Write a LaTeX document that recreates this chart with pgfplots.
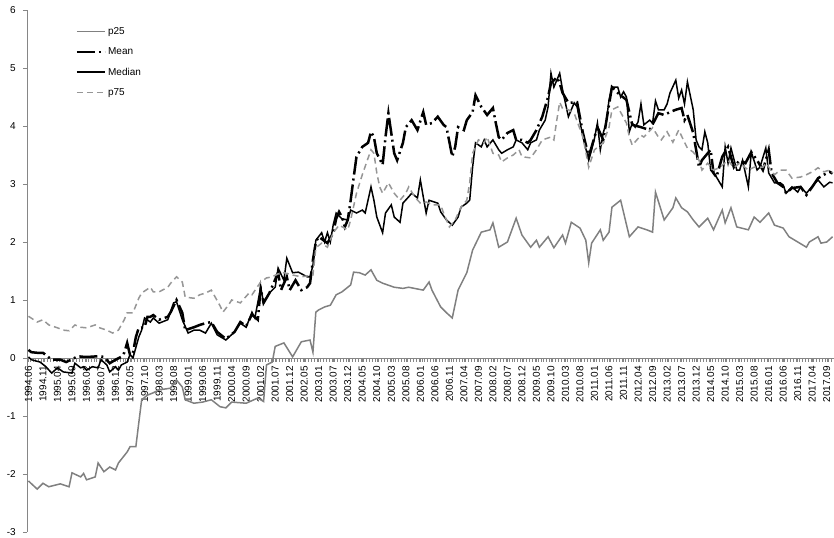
\documentclass[border=0pt]{standalone}
\usepackage{fontspec}
\setmainfont{Liberation Sans}
\usepackage{pgfplots}
\pgfplotsset{compat=1.18}
\definecolor{axgray}{RGB}{134,134,134}
\definecolor{pgray}{RGB}{128,128,128}
\definecolor{qgray}{RGB}{150,150,150}
\begin{document}
\fontsize{10}{12}\selectfont
\begin{tikzpicture}
\begin{axis}[
 scale only axis, width=807pt, height=522pt,
 xmin=-0.5, xmax=277.5, ymin=-3, ymax=6,
 axis x line=middle, axis y line=left,
 axis line style={draw=axgray, line width=0.8pt, -},
 hide obscured x ticks=false, hide obscured y ticks=false,
 ytick={-3,-2,-1,0,1,2,3,4,5,6},
 yticklabel style={font=\fontsize{10}{12}\selectfont, inner sep=0pt, xshift=-7pt},
 ytick style={draw=axgray, line width=0.6pt},
 xtick={0,5,...,275},
 xticklabels={1994.06,1994.11,1995.04,1995.09,1996.02,1996.07,1996.12,1997.05,1997.10,1998.03,1998.08,1999.01,1999.06,1999.11,2000.04,2000.09,2001.02,2001.07,2001.12,2002.05,2003.01,2003.07,2003.12,2004.05,2004.10,2005.03,2005.08,2006.01,2006.06,2006.11,2007.04,2007.09,2008.02,2008.07,2008.12,2009.05,2009.10,2010.03,2010.08,2011.01,2011.06,2011.11,2012.04,2012.09,2013.02,2013.07,2013.12,2014.05,2014.10,2015.03,2015.08,2016.01,2016.06,2016.11,2017.04,2017.09},
 xticklabel style={rotate=90, anchor=east, inner sep=0pt, xshift=-4pt, font=\fontsize{10}{12}\selectfont},
 minor xtick={-0.5,0.5,...,277.5},
 xtick style={draw=axgray, line width=0.5pt},
 tick align=outside,
 major tick length=4pt, minor tick length=4pt,
 /pgf/number format/assume math mode=true,
 legend cell align=left,
 legend style={draw=none, fill=none, at={(0.06,0.971)}, anchor=north west,
   font=\fontsize{10}{12}\selectfont, row sep=7.8pt, inner sep=0pt},
 legend image code/.code={\draw[#1] (0pt,0pt) -- (28pt,0pt);},
]
\addplot[pgray, line width=1.5pt] table[row sep=\\] {x y\\
0 -2.12\\ 3 -2.26\\ 5 -2.16\\ 7 -2.22\\ 11 -2.17\\ 14 -2.22\\ 15 -1.98\\ 18 -2.05\\ 19 -1.99\\ 20 -2.10\\
23 -2.05\\ 24 -1.81\\ 26 -1.96\\ 28 -1.88\\ 30 -1.93\\ 31 -1.81\\ 34 -1.62\\ 35 -1.53\\ 37 -1.53\\ 38 -1.12\\
39 -0.72\\ 41 -0.64\\ 43 -0.60\\ 45 -0.55\\ 49 -0.52\\ 51 -0.38\\ 53 -0.50\\ 54 -0.72\\ 57 -0.78\\ 60 -0.76\\
63 -0.72\\ 66 -0.84\\ 68 -0.86\\ 70 -0.76\\ 75 -0.78\\ 79 -0.69\\ 81 -0.75\\ 82 -0.12\\ 84 -0.07\\ 85 0.20\\
88 0.26\\ 91 0.02\\ 94 0.28\\ 97 0.31\\ 98 0.10\\ 99 0.79\\ 100 0.83\\ 102 0.88\\ 104 0.91\\ 106 1.09\\
108 1.14\\ 111 1.26\\ 112 1.48\\ 114 1.47\\ 116 1.43\\ 118 1.52\\ 120 1.34\\ 122 1.29\\ 126 1.22\\ 129 1.20\\
131 1.22\\ 136 1.17\\ 138 1.31\\ 139 1.17\\ 142 0.88\\ 144 0.78\\ 146 0.69\\ 148 1.17\\ 151 1.47\\ 153 1.86\\
156 2.17\\ 159 2.21\\ 160 2.33\\ 162 1.91\\ 165 2.00\\ 168 2.41\\ 170 2.12\\ 173 1.91\\ 175 2.03\\ 176 1.91\\
179 2.09\\ 181 1.90\\ 184 2.12\\ 185 1.98\\ 187 2.34\\ 190 2.24\\ 192 2.03\\ 193 1.64\\ 194 1.98\\ 197 2.21\\
198 2.03\\ 200 2.17\\ 201 2.60\\ 204 2.72\\ 207 2.09\\ 210 2.26\\ 213 2.21\\ 215 2.17\\ 216 2.86\\ 219 2.38\\
222 2.59\\ 223 2.76\\ 225 2.59\\ 227 2.52\\ 229 2.38\\ 231 2.26\\ 234 2.41\\ 236 2.21\\ 239 2.55\\ 240 2.33\\
242 2.59\\ 244 2.26\\ 248 2.21\\ 250 2.43\\ 252 2.34\\ 255 2.50\\ 257 2.29\\ 260 2.24\\ 262 2.09\\ 265 2.00\\
268 1.91\\ 269 2.00\\ 272 2.09\\ 273 1.98\\ 275 2.00\\ 277 2.09\\
};
\addlegendentry{p25}
\addplot[black, line width=2.5pt, dash pattern=on 18pt off 4pt on 2pt off 4pt] table[row sep=\\] {x y\\
0 0.14\\ 1 0.10\\ 3 0.09\\ 5 0.09\\ 8 -0.03\\ 11 -0.03\\ 13 -0.07\\ 17 0.03\\ 19 0.02\\ 21 0.02\\
24 0.03\\ 26 0.02\\ 28 -0.09\\ 30 -0.03\\ 32 0.02\\ 33 0.09\\ 34 0.26\\ 35 0.05\\ 36 0.09\\ 37 0.36\\
38 0.52\\ 40 0.53\\ 41 0.71\\ 42 0.71\\ 43 0.74\\ 45 0.66\\ 48 0.71\\ 49 0.79\\ 51 1.00\\ 53 0.78\\
54 0.48\\ 57 0.53\\ 59 0.57\\ 61 0.60\\ 63 0.62\\ 65 0.45\\ 68 0.33\\ 71 0.45\\ 73 0.62\\ 75 0.55\\
77 0.75\\ 79 0.66\\ 80 1.20\\ 81 0.95\\ 83 1.12\\ 86 1.47\\ 87 1.17\\ 89 1.40\\ 90 1.17\\ 92 1.34\\
94 1.17\\ 96 1.22\\ 97 1.29\\ 98 1.69\\ 99 2.00\\ 100 2.09\\ 103 1.98\\ 105 2.16\\ 106 2.40\\ 107 2.52\\
108 2.43\\ 109 2.26\\ 110 2.38\\ 111 2.72\\ 112 3.10\\ 113 3.47\\ 115 3.64\\ 117 3.71\\ 118 3.90\\ 119 3.81\\
120 3.53\\ 122 3.33\\ 123 3.81\\ 124 4.22\\ 126 3.53\\ 127 3.41\\ 129 3.71\\ 130 3.98\\ 132 4.10\\ 134 3.93\\
136 4.24\\ 137 4.02\\ 139 4.05\\ 141 4.16\\ 143 4.02\\ 144 3.98\\ 146 3.47\\ 147 3.64\\ 148 3.98\\ 150 3.93\\
151 4.10\\ 153 4.24\\ 154 4.53\\ 156 4.33\\ 158 4.19\\ 160 4.31\\ 161 4.05\\ 162 3.81\\ 163 3.76\\ 165 3.88\\
167 3.93\\ 168 3.76\\ 170 3.76\\ 172 3.71\\ 173 3.76\\ 175 3.93\\ 177 4.16\\ 179 4.50\\ 180 4.74\\ 182 4.84\\
183 4.74\\ 184 4.57\\ 186 4.40\\ 189 4.41\\ 191 3.88\\ 193 3.47\\ 196 3.98\\ 198 3.76\\ 201 4.67\\ 203 4.57\\
206 4.45\\ 208 4.02\\ 211 3.98\\ 214 3.93\\ 217 4.22\\ 219 4.19\\ 221 4.24\\ 223 4.28\\ 225 4.31\\ 226 4.10\\
227 4.19\\ 229 3.88\\ 230 3.59\\ 231 3.29\\ 232 3.41\\ 235 3.59\\ 236 3.19\\ 237 3.12\\ 239 3.47\\ 241 3.64\\
243 3.29\\ 245 3.41\\ 247 3.36\\ 249 3.55\\ 251 3.41\\ 253 3.24\\ 255 3.59\\ 256 3.19\\ 258 3.02\\ 260 2.95\\
261 2.84\\ 263 2.93\\ 266 2.95\\ 268 2.81\\ 270 2.95\\ 272 3.10\\ 274 3.16\\ 276 3.21\\ 277 3.18\\
};
\addlegendentry{Mean}
\addplot[black, line width=1.5pt] table[row sep=\\] {x y\\
0 0.02\\ 1 -0.03\\ 4 -0.07\\ 6 -0.15\\ 8 -0.26\\ 10 -0.17\\ 12 -0.24\\ 15 -0.26\\ 16 -0.09\\ 18 -0.17\\
19 -0.15\\ 20 -0.21\\ 22 -0.15\\ 24 -0.17\\ 25 -0.03\\ 27 -0.12\\ 28 -0.24\\ 30 -0.15\\ 31 -0.21\\ 32 -0.12\\
34 -0.07\\ 35 0.06\\ 36 0.00\\ 37 0.18\\ 38 0.36\\ 39 0.48\\ 40 0.69\\ 42 0.62\\ 43 0.69\\ 45 0.60\\
48 0.66\\ 50 0.95\\ 51 0.97\\ 53 0.66\\ 55 0.43\\ 57 0.48\\ 59 0.48\\ 61 0.43\\ 63 0.60\\ 65 0.40\\
68 0.31\\ 71 0.45\\ 73 0.60\\ 75 0.53\\ 77 0.79\\ 78 0.69\\ 80 1.22\\ 81 0.95\\ 83 1.12\\ 85 1.22\\
86 1.55\\ 88 1.34\\ 89 1.72\\ 91 1.47\\ 93 1.48\\ 96 1.40\\ 97 1.40\\ 98 1.60\\ 99 2.03\\ 101 2.16\\
102 2.00\\ 103 2.16\\ 104 2.00\\ 105 2.30\\ 106 2.50\\ 108 2.40\\ 110 2.38\\ 111 2.55\\ 113 2.50\\ 115 2.55\\
116 2.50\\ 118 2.95\\ 119 2.72\\ 120 2.43\\ 122 2.16\\ 123 2.50\\ 125 2.64\\ 126 2.43\\ 128 2.34\\ 129 2.67\\
131 2.78\\ 132 2.84\\ 134 2.76\\ 135 3.07\\ 136 2.78\\ 137 2.50\\ 138 2.72\\ 141 2.67\\ 142 2.52\\ 144 2.38\\
146 2.29\\ 148 2.43\\ 149 2.60\\ 151 2.67\\ 152 2.72\\ 153 3.29\\ 154 3.71\\ 156 3.64\\ 157 3.76\\ 158 3.64\\
160 3.76\\ 162 3.59\\ 163 3.53\\ 165 3.59\\ 167 3.64\\ 168 3.76\\ 170 3.71\\ 172 3.59\\ 173 3.71\\ 175 3.76\\
176 3.93\\ 178 4.10\\ 179 4.33\\ 180 4.91\\ 181 4.67\\ 182 4.79\\ 183 4.91\\ 184 4.62\\ 186 4.16\\ 188 4.40\\
189 4.33\\ 191 3.81\\ 193 3.41\\ 194 3.59\\ 195 3.79\\ 196 4.05\\ 197 3.59\\ 198 3.88\\ 199 4.05\\ 200 4.45\\
201 4.67\\ 203 4.67\\ 204 4.50\\ 205 4.59\\ 206 4.50\\ 207 3.90\\ 208 4.05\\ 209 3.98\\ 210 4.07\\ 211 4.38\\
212 4.02\\ 214 4.10\\ 215 4.05\\ 216 4.43\\ 217 4.28\\ 219 4.28\\ 220 4.38\\ 221 4.57\\ 223 4.79\\ 224 4.48\\
225 4.62\\ 226 4.38\\ 227 4.76\\ 229 4.28\\ 230 3.76\\ 231 3.64\\ 232 3.59\\ 233 3.90\\ 234 3.71\\ 235 3.24\\
237 3.12\\ 239 2.95\\ 240 3.64\\ 241 3.36\\ 242 3.62\\ 244 3.24\\ 245 3.24\\ 246 3.41\\ 248 2.95\\ 249 3.55\\
251 3.24\\ 252 3.29\\ 254 3.62\\ 255 3.19\\ 257 3.02\\ 259 3.02\\ 260 2.98\\ 261 2.84\\ 263 2.95\\ 265 2.86\\
266 2.95\\ 268 2.84\\ 271 3.02\\ 272 3.07\\ 274 2.95\\ 276 3.03\\ 277 3.02\\
};
\addlegendentry{Median}
\addplot[qgray, line width=1.5pt, dash pattern=on 6pt off 4pt] table[row sep=\\] {x y\\
0 0.72\\ 3 0.62\\ 5 0.66\\ 7 0.57\\ 10 0.52\\ 12 0.48\\ 14 0.47\\ 16 0.57\\ 18 0.53\\ 20 0.52\\
23 0.57\\ 24 0.53\\ 27 0.48\\ 29 0.43\\ 31 0.48\\ 33 0.66\\ 34 0.78\\ 36 0.78\\ 38 1.03\\ 39 1.12\\
42 1.22\\ 43 1.14\\ 45 1.14\\ 48 1.22\\ 49 1.29\\ 51 1.40\\ 53 1.31\\ 54 1.05\\ 57 1.03\\ 59 1.09\\
61 1.12\\ 63 1.17\\ 66 0.90\\ 67 0.79\\ 69 0.92\\ 70 1.00\\ 73 0.95\\ 76 1.12\\ 77 1.09\\ 80 1.31\\
82 1.38\\ 84 1.40\\ 86 1.45\\ 88 1.47\\ 91 1.43\\ 94 1.40\\ 98 1.43\\ 99 1.90\\ 101 1.98\\ 103 1.91\\
105 2.16\\ 107 2.29\\ 110 2.21\\ 111 2.38\\ 113 2.84\\ 115 3.16\\ 118 3.59\\ 119 3.53\\ 120 3.19\\ 121 2.95\\
122 2.84\\ 124 3.02\\ 126 2.84\\ 128 2.72\\ 130 2.84\\ 131 2.95\\ 133 2.78\\ 135 2.67\\ 137 2.69\\ 139 2.64\\
142 2.64\\ 143 2.50\\ 145 2.26\\ 147 2.38\\ 149 2.60\\ 151 2.72\\ 152 3.02\\ 153 3.53\\ 155 3.76\\ 157 3.71\\
158 3.81\\ 160 3.53\\ 162 3.50\\ 163 3.38\\ 165 3.45\\ 167 3.50\\ 169 3.59\\ 170 3.47\\ 173 3.45\\ 175 3.59\\
177 3.76\\ 180 3.81\\ 181 3.76\\ 182 4.10\\ 183 4.41\\ 184 4.30\\ 186 4.28\\ 188 4.22\\ 191 3.81\\ 193 3.29\\
195 3.59\\ 198 3.71\\ 200 3.98\\ 201 4.28\\ 203 4.33\\ 206 4.05\\ 207 3.81\\ 208 3.67\\ 211 3.84\\ 212 3.81\\
215 3.97\\ 217 3.81\\ 218 3.76\\ 220 3.90\\ 222 3.72\\ 224 3.93\\ 226 3.72\\ 227 3.62\\ 229 3.55\\ 231 3.41\\
232 3.24\\ 234 3.36\\ 236 3.24\\ 238 3.28\\ 241 3.41\\ 243 3.28\\ 245 3.36\\ 248 3.24\\ 250 3.29\\ 253 3.29\\
254 3.36\\ 257 3.16\\ 259 3.24\\ 261 3.24\\ 263 3.10\\ 266 3.12\\ 268 3.16\\ 270 3.21\\ 272 3.28\\ 274 3.21\\
276 3.24\\ 277 3.19\\
};
\addlegendentry{p75}
\end{axis}
\pgfresetboundingbox
\path ([shift={(-27pt,-6pt)}]current axis.south west) rectangle ([shift={(0pt,10pt)}]current axis.north east);
\end{tikzpicture}
\end{document}
